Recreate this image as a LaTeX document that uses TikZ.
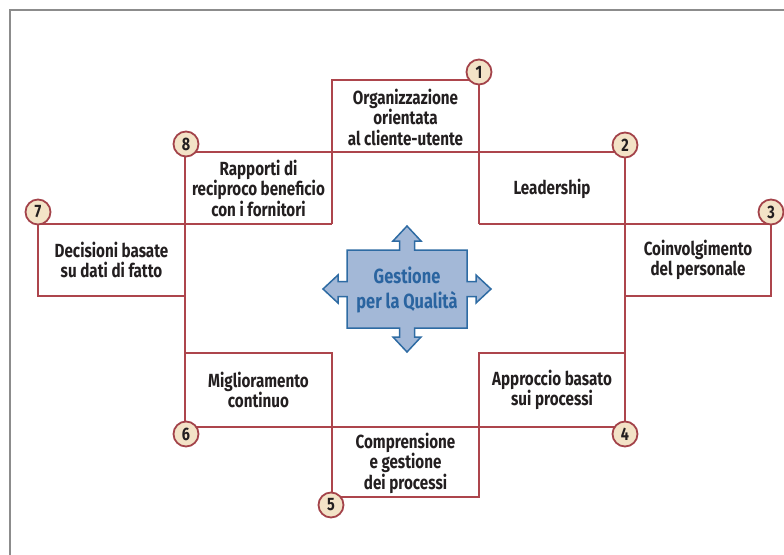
\documentclass[tikz,border=0pt]{standalone}
\usepackage{fontspec}
\setmainfont{Fira Sans}[FakeStretch=0.8]
\definecolor{frame}{HTML}{8C8C8C}
\definecolor{grid}{HTML}{AD454C}
\definecolor{badgefill}{HTML}{F3E3C7}
\definecolor{badgeline}{HTML}{A3434A}
\definecolor{txt}{HTML}{231F20}
\definecolor{hubfill}{HTML}{A3B8D7}
\definecolor{hubline}{HTML}{2E6BA3}
\definecolor{hubtxt}{HTML}{2A64A0}
\tikzset{
  gridline/.style={draw=grid, line width=1.7pt},
  badge/.style={circle, draw=badgeline, fill=badgefill, line width=1.8pt,
    minimum size=25pt, inner sep=0pt, text=txt,
    font=\fontsize{18}{18}\selectfont\bfseries},
  label/.style={align=center, text=txt, inner sep=0pt,
    font=\fontsize{19}{20.5}\selectfont\bfseries},
  hublabel/.style={align=center, text=hubtxt, inner sep=0pt,
    font=\fontsize{20.5}{25}\selectfont\bfseries}
}
\begin{document}
\begin{tikzpicture}[x=1pt,y=-1pt]
\useasboundingbox (0,0) rectangle (784,554);
% outer frame
\draw[frame, line width=2.2pt] (10,560) -- (10,10) -- (790,10);

% grid corners: columns a..f, rows 1..7
\foreach \cx/\xv in {a/38,b/185,c/332,d/479,e/625,f/771}{
  \foreach \ry/\yv in {1/80,2/152,3/224,4/296,5/353,6/427,7/497}{
    \coordinate (\cx\ry) at (\xv,\yv);
  }
}

% box outlines
\draw[gridline] (c3) -- (c1) -- (d1) -- (d3);
\draw[gridline] (b2) -- (e2);
\draw[gridline] (b2) -- (b6);
\draw[gridline] (e2) -- (e6);
\draw[gridline] (a3) -- (c3);
\draw[gridline] (d3) -- (f3);
\draw[gridline] (a3) -- (a4) -- (b4);
\draw[gridline] (f3) -- (f4) -- (e4);
\draw[gridline] (b5) -- (c5) -- (c7) -- (d7) -- (d5) -- (e5);
\draw[gridline] (b6) -- (e6);

% numbered badges
\node[badge] (n1) at (479,72) {1};
\node[badge] (n2) at (625,145) {2};
\node[badge] (n3) at (771,212) {3};
\node[badge] (n4) at (625,434) {4};
\node[badge] (n5) at (331,505) {5};
\node[badge] (n6) at (186,434) {6};
\node[badge] (n7) at (38,212) {7};
\node[badge] (n8) at (186,144) {8};

% principle labels
\node[label] (t1) at (405.5,117) {Organizzazione\\orientata\\al cliente-utente};
\node[label] (t2) at (552,189) {Leadership};
\node[label] (t3) at (698,260) {Coinvolgimento\\del personale};
\node[label] (t4) at (552,390) {Approccio basato\\sui processi};
\node[label] (t5) at (405.5,463) {Comprensione\\e gestione\\dei processi};
\node[label] (t6) at (258.5,390) {Miglioramento\\continuo};
\node[label] (t7) at (111.5,260) {Decisioni basate\\su dati di fatto};
\node[label] (t8) at (258.5,188) {Rapporti di\\reciproco beneficio\\con i fornitori};

% central four-way arrow
\def\W{60}\def\H{39}\def\s{7.5}\def\L{9}\def\h{14}\def\t{15}
\begin{scope}[shift={(407,289)}]
\draw[fill=hubfill, draw=hubline, line width=1.5pt, line join=miter]
  (-\W,-\H) -- (-\s,-\H) -- (-\s,-\H-\L) -- (-\h,-\H-\L) -- (0,-\H-\L-\t)
  -- (\h,-\H-\L) -- (\s,-\H-\L) -- (\s,-\H) -- (\W,-\H)
  -- (\W,-\s) -- (\W+\L,-\s) -- (\W+\L,-\h) -- (\W+\L+\t,0)
  -- (\W+\L,\h) -- (\W+\L,\s) -- (\W,\s) -- (\W,\H)
  -- (\s,\H) -- (\s,\H+\L) -- (\h,\H+\L) -- (0,\H+\L+\t)
  -- (-\h,\H+\L) -- (-\s,\H+\L) -- (-\s,\H) -- (-\W,\H)
  -- (-\W,\s) -- (-\W-\L,\s) -- (-\W-\L,\h) -- (-\W-\L-\t,0)
  -- (-\W-\L,-\h) -- (-\W-\L,-\s) -- (-\W,-\s) -- cycle;
\node[hublabel] (hub) at (0,1) {Gestione\\per la Qualità};
\end{scope}
\end{tikzpicture}
\end{document}
